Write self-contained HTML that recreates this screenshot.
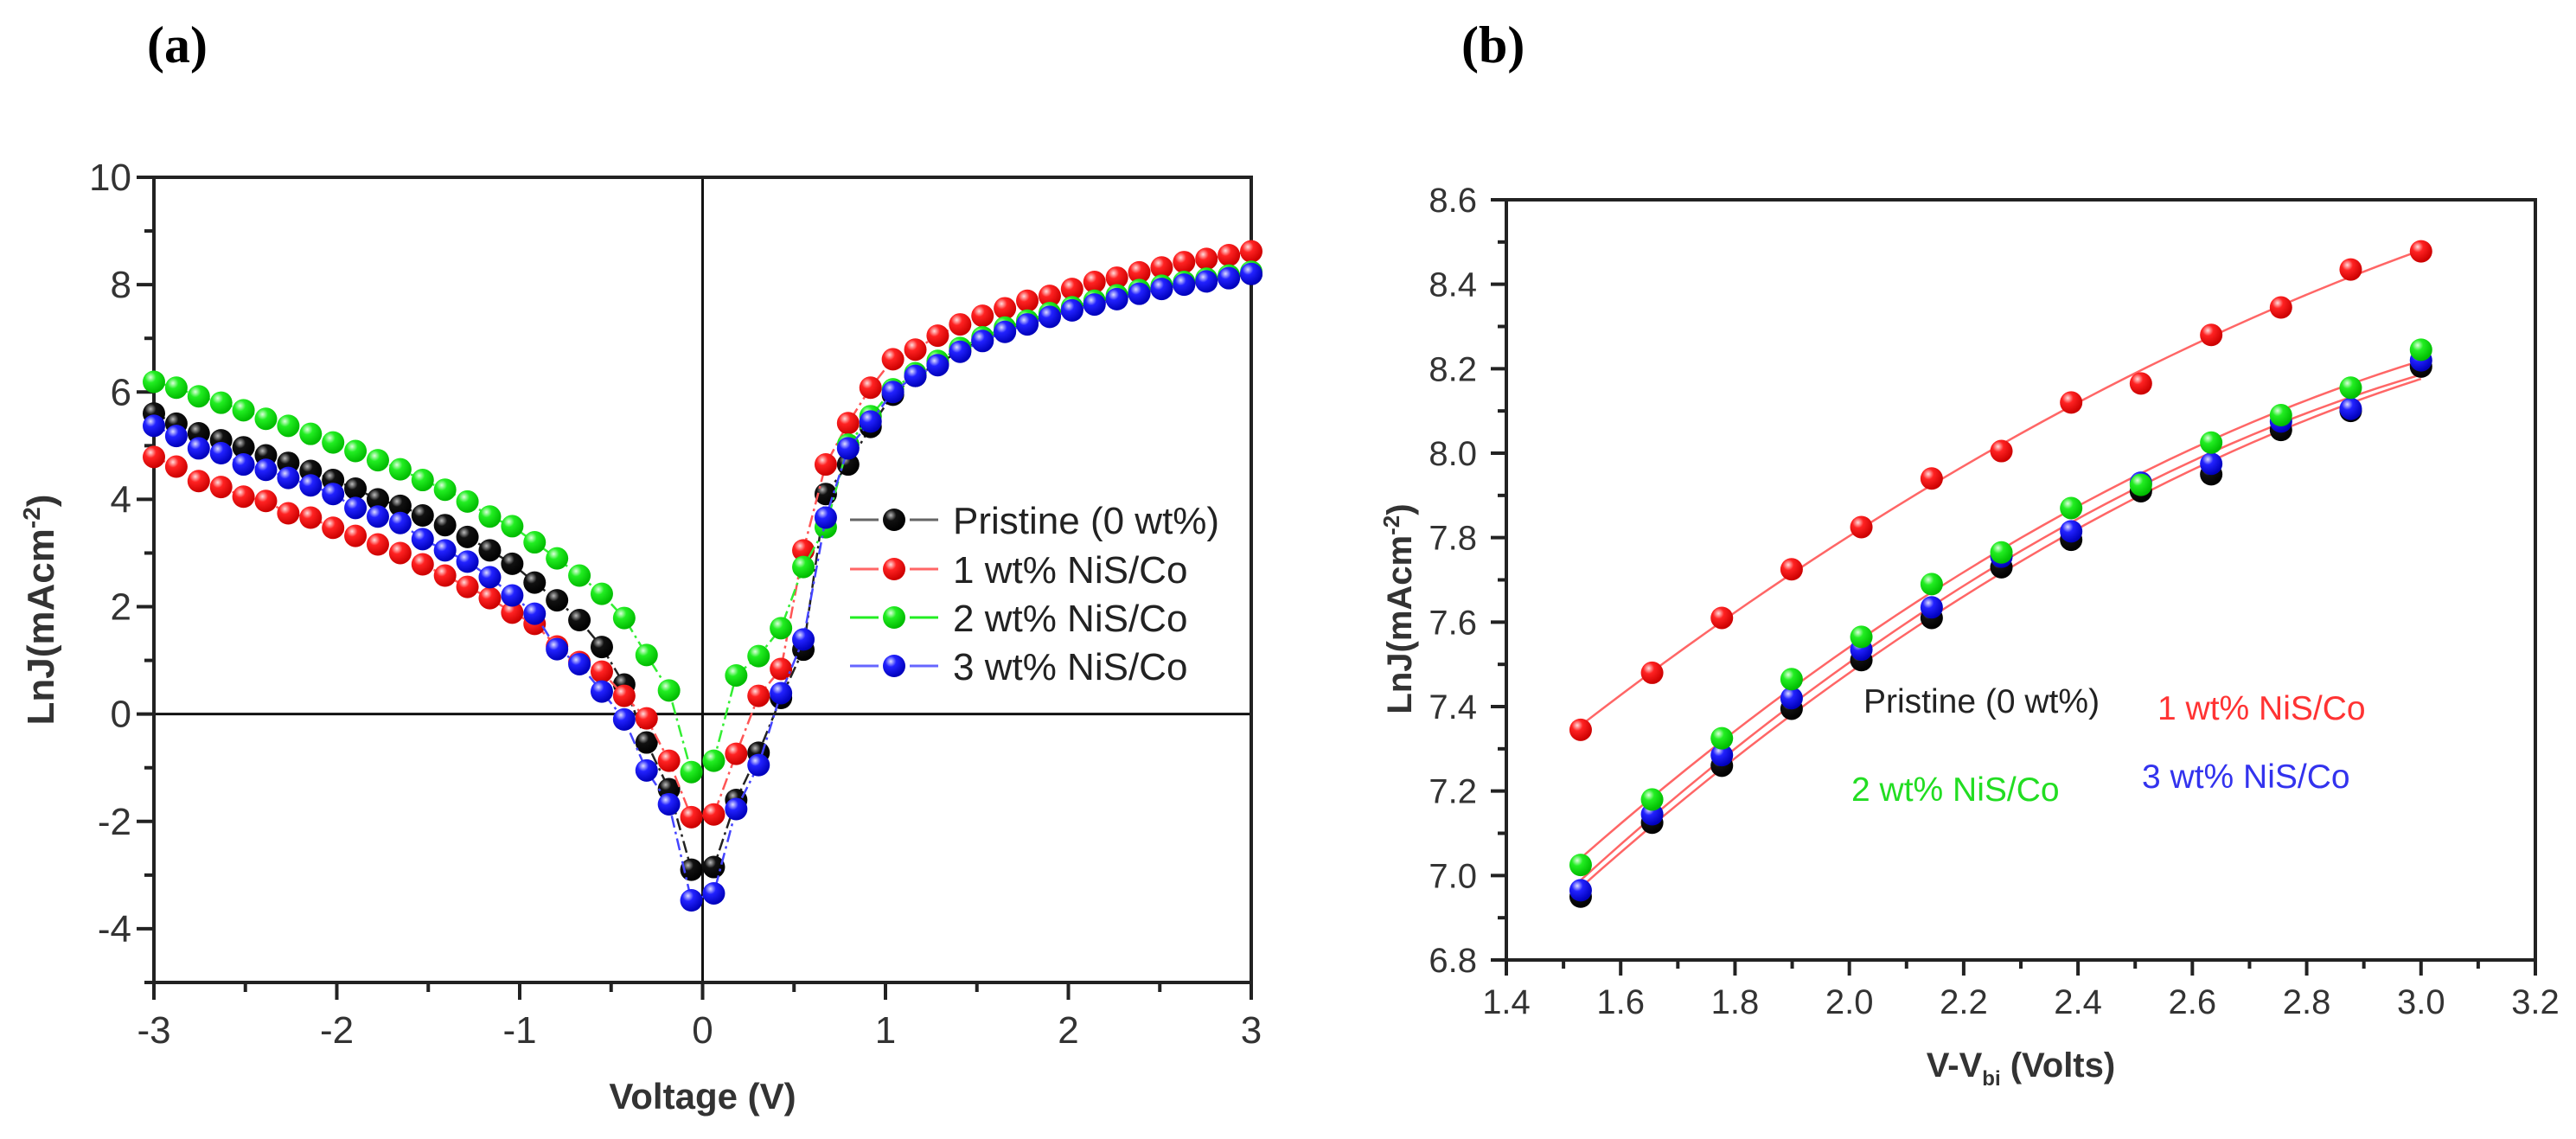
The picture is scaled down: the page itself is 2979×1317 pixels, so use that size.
<!DOCTYPE html>
<html><head><meta charset="utf-8">
<style>
html,body{margin:0;padding:0;background:#fff;}
svg{display:block;font-family:"Liberation Sans",Arial,sans-serif;}
</style></head>
<body>
<svg id="chart" width="2979" height="1317" viewBox="0 0 2979 1317" xmlns="http://www.w3.org/2000/svg">
<defs>
<radialGradient id="gk" cx="35%" cy="30%" r="70%"><stop offset="0" stop-color="#bbb"/><stop offset="0.35" stop-color="#111"/><stop offset="1" stop-color="#000"/></radialGradient>
<radialGradient id="gr" cx="35%" cy="30%" r="70%"><stop offset="0" stop-color="#fdd"/><stop offset="0.35" stop-color="#f22"/><stop offset="1" stop-color="#c00"/></radialGradient>
<radialGradient id="gg" cx="35%" cy="30%" r="70%"><stop offset="0" stop-color="#dfd"/><stop offset="0.35" stop-color="#2e2"/><stop offset="1" stop-color="#0b0"/></radialGradient>
<radialGradient id="gb" cx="35%" cy="30%" r="70%"><stop offset="0" stop-color="#ddf"/><stop offset="0.35" stop-color="#22f"/><stop offset="1" stop-color="#00b"/></radialGradient>
</defs>
<text x="170" y="72" font-family="Liberation Serif, serif" font-weight="bold" font-size="60">(a)</text>
<text x="1690" y="72" font-family="Liberation Serif, serif" font-weight="bold" font-size="60">(b)</text>
<g id="pa"></g>
<g id="pb"></g>
</svg>
<script>
// ---- Panel (a) data ----
const aVoltStart = -3, aVoltStep = 6/49, aCount = 50;
const aSeriesNames = ["Pristine (0 wt%)","1 wt% NiS/Co","2 wt% NiS/Co","3 wt% NiS/Co"];
const aPristine = [5.6,5.41,5.23,5.1,4.97,4.82,4.68,4.53,4.36,4.2,4.0,3.88,3.7,3.52,3.3,3.05,2.8,2.45,2.12,1.75,1.25,0.55,-0.53,-1.4,-2.9,-2.85,-1.6,-0.72,0.3,1.2,4.1,4.65,5.35,5.95,6.3,6.52,6.77,6.97,7.14,7.28,7.42,7.54,7.65,7.75,7.85,7.94,8.01,8.08,8.14,8.2];
const a1wt = [4.79,4.61,4.34,4.23,4.05,3.97,3.74,3.66,3.47,3.32,3.16,3.0,2.79,2.58,2.37,2.16,1.89,1.68,1.26,0.97,0.79,0.34,-0.08,-0.87,-1.92,-1.87,-0.74,0.34,0.84,3.05,4.65,5.42,6.08,6.61,6.79,7.05,7.26,7.42,7.56,7.7,7.79,7.92,8.05,8.13,8.23,8.32,8.42,8.48,8.55,8.62];
const a2wt = [6.19,6.08,5.92,5.8,5.66,5.5,5.37,5.22,5.06,4.9,4.73,4.56,4.36,4.18,3.96,3.68,3.5,3.2,2.9,2.58,2.24,1.79,1.1,0.44,-1.08,-0.87,0.72,1.08,1.6,2.74,3.48,5.02,5.55,6.05,6.35,6.58,6.82,7.02,7.2,7.33,7.47,7.58,7.7,7.8,7.9,7.98,8.05,8.11,8.17,8.24];
const a3wt = [5.37,5.18,4.95,4.86,4.65,4.55,4.4,4.26,4.1,3.84,3.68,3.56,3.26,3.05,2.84,2.55,2.21,1.87,1.21,0.93,0.42,-0.1,-1.05,-1.68,-3.47,-3.34,-1.77,-0.95,0.39,1.39,3.66,4.95,5.45,6.0,6.3,6.5,6.75,6.95,7.12,7.26,7.4,7.52,7.63,7.73,7.83,7.92,8.0,8.06,8.12,8.2];
const aXTicks = [-3,-2,-1,0,1,2,3];
const aYTicks = [-4,-2,0,2,4,6,8,10];
// ---- Panel (b) data ----
const bX = [1.53,1.655,1.777,1.899,2.021,2.144,2.266,2.388,2.51,2.633,2.755,2.877,3.0];
const bPristine = [6.95,7.125,7.26,7.395,7.51,7.61,7.73,7.795,7.91,7.95,8.055,8.1,8.205];
const b1wt = [7.345,7.48,7.61,7.725,7.825,7.94,8.005,8.12,8.165,8.28,8.345,8.435,8.478];
const b2wt = [7.025,7.18,7.325,7.465,7.565,7.69,7.765,7.87,7.925,8.025,8.09,8.155,8.245];
const b3wt = [6.965,7.145,7.285,7.42,7.535,7.635,7.755,7.815,7.93,7.975,8.075,8.105,8.22];
const bXTicks = ["1.4","1.6","1.8","2.0","2.2","2.4","2.6","2.8","3.0","3.2"];
const bYTicks = ["6.8","7.0","7.2","7.4","7.6","7.8","8.0","8.2","8.4","8.6"];

const NS="http://www.w3.org/2000/svg";
function mk(tag,attrs,parent){const e=document.createElementNS(NS,tag);for(const k in attrs)e.setAttribute(k,attrs[k]);parent.appendChild(e);return e;}

// Panel a scales
const axL=178, axR=1447, ayT=205, ayB=1136;
const ax=v=>axL+(v+3)/6*(axR-axL);
const ay=v=>ayB-(v+5)/15*(ayB-ayT);
const pa=document.getElementById('pa');
let z1=mk('line',{x1:ax(0),x2:ax(0),y1:ayT,y2:ayB,stroke:'#111','stroke-width':3},pa);


let z2=mk('line',{x1:axL,x2:axR,y1:ay(0),y2:ay(0),stroke:'#111','stroke-width':3},pa);


let fa=mk('rect',{x:axL,y:ayT,width:axR-axL,height:ayB-ayT,fill:'none',stroke:'#222','stroke-width':4},pa);


for(let v=-3;v<=3.001;v+=0.5){const maj=Math.abs(v-Math.round(v))<1e-6;
 mk('line',{x1:ax(v),x2:ax(v),y1:ayB,y2:ayB+(maj?20:11),stroke:'#222','stroke-width':4},pa);}
aXTicks.forEach(v=>{const t=mk('text',{x:ax(v),y:1206,'text-anchor':'middle','font-size':44,fill:'#333'},pa);t.textContent=String(v);
 
 });
for(let v=-5;v<=10;v+=1){const maj=v%2===0;
 mk('line',{x1:axL-(maj?20:11),x2:axL,y1:ay(v),y2:ay(v),stroke:'#222','stroke-width':4},pa);}
aYTicks.forEach(v=>{const t=mk('text',{x:152,y:ay(v)+15,'text-anchor':'end','font-size':44,fill:'#333'},pa);t.textContent=String(v);
 
 });
let xta=mk('text',{x:ax(0),y:1282,'text-anchor':'middle','font-size':42,'font-weight':'bold',fill:'#333'},pa);xta.textContent='Voltage (V)';


let yta=mk('text',{x:62,y:705,'text-anchor':'middle','font-size':44,'font-weight':'bold',fill:'#333',transform:'rotate(-90 62 705)'},pa);
yta.innerHTML='LnJ(mAcm<tspan dy="-16" font-size="28">-2</tspan><tspan dy="16">)</tspan>';



const aSeries=[[aPristine,'#222','gk'],[a1wt,'#f55','gr'],[a2wt,'#3e3','gg'],[a3wt,'#44f','gb']];
aSeries.forEach((s,si)=>{
 const g=mk('g',{},pa);
 
 
 const pts=s[0].map((v,i)=>ax(aVoltStart+i*aVoltStep)+','+ay(v)).join(' ');
 mk('polyline',{points:pts,fill:'none',stroke:s[1],'stroke-width':2.5,'stroke-dasharray':'14 5 3 5'},g);
 s[0].forEach((v,i)=>{const c=mk('circle',{cx:ax(aVoltStart+i*aVoltStep),cy:ay(v),r:13,fill:'url(#'+s[2]+')'},g);
  
  });
});
// legend a
const legY=[601,658,714,770];
const legLine=['#666','#f66','#2e2','#66f'];
aSeries.forEach((s,si)=>{
 const g=mk('g',{},pa);
 
 
 mk('line',{x1:983,x2:1016,y1:legY[si],y2:legY[si],stroke:legLine[si],'stroke-width':3},g);
 mk('line',{x1:1052,x2:1085,y1:legY[si],y2:legY[si],stroke:legLine[si],'stroke-width':3},g);
 mk('circle',{cx:1034,cy:legY[si],r:13,fill:'url(#'+s[2]+')'},g);
 const t=mk('text',{x:1102,y:legY[si]+16,'font-size':44,fill:'#222'},g);t.textContent=aSeriesNames[si];
});

// Panel b
const bxL=1742,bxR=2932,byT=231,byB=1110;
const bx=v=>bxL+(v-1.4)/1.8*(bxR-bxL);
const by=v=>byB-(v-6.8)/1.8*(byB-byT);
const pb=document.getElementById('pb');
let fb=mk('rect',{x:bxL,y:byT,width:bxR-bxL,height:byB-byT,fill:'none',stroke:'#222','stroke-width':4},pb);


for(let i=0;i<=18;i++){const v=1.4+i*0.1,maj=i%2===0;
 mk('line',{x1:bx(v),x2:bx(v),y1:byB,y2:byB+(maj?18:10),stroke:'#222','stroke-width':4},pb);
 const w=6.8+i*0.1;
 mk('line',{x1:bxL-(maj?18:10),x2:bxL,y1:by(w),y2:by(w),stroke:'#222','stroke-width':4},pb);}
bXTicks.forEach(s=>{const t=mk('text',{x:bx(parseFloat(s)),y:1172,'text-anchor':'middle','font-size':40,fill:'#333'},pb);t.textContent=s;
 
 });
bYTicks.forEach(s=>{const t=mk('text',{x:1708,y:by(parseFloat(s))+14,'text-anchor':'end','font-size':40,fill:'#333'},pb);t.textContent=s;
 
 });
let xtb=mk('text',{x:2337,y:1245,'text-anchor':'middle','font-size':40,'font-weight':'bold',fill:'#333'},pb);
xtb.innerHTML='V-V<tspan dy="10" font-size="24">bi</tspan><tspan dy="-10"> (Volts)</tspan>';


let ytb=mk('text',{x:1632,y:704,'text-anchor':'middle','font-size':40,'font-weight':'bold',fill:'#333',transform:'rotate(-90 1632 704)'},pb);
ytb.innerHTML='LnJ(mAcm<tspan dy="-14" font-size="26">-2</tspan><tspan dy="14">)</tspan>';



function quadFit(xs,ys){let n=xs.length,S=[0,0,0,0,0],T=[0,0,0];
 for(let i=0;i<n;i++){let p=1;for(let k=0;k<5;k++){S[k]+=p;if(k<3)T[k]+=p*ys[i];p*=xs[i];}}
 const M=[[S[0],S[1],S[2],T[0]],[S[1],S[2],S[3],T[1]],[S[2],S[3],S[4],T[2]]];
 for(let c=0;c<3;c++){for(let r=c+1;r<3;r++){const f=M[r][c]/M[c][c];for(let k=c;k<4;k++)M[r][k]-=f*M[c][k];}}
 const a=[0,0,0];for(let r=2;r>=0;r--){let s=M[r][3];for(let k=r+1;k<3;k++)s-=M[r][k]*a[k];a[r]=s/M[r][r];}
 return x=>a[0]+a[1]*x+a[2]*x*x;}
const bSeries=[[b1wt,'gr'],[b2wt,'gg'],[b3wt,'gb'],[bPristine,'gk']];
bSeries.forEach((s,si)=>{
 const f=quadFit(bX,s[0]);const pts=[];
 for(let i=0;i<=40;i++){const x=bX[0]+(bX[bX.length-1]-bX[0])*i/40;pts.push(bx(x)+','+by(f(x)));}
 const fl=mk('polyline',{points:pts.join(' '),fill:'none',stroke:'#f66','stroke-width':2.5},pb);
 
 
});
[[bPristine,'gk'],[b3wt,'gb'],[b2wt,'gg'],[b1wt,'gr']].forEach((s,si)=>{
 s[0].forEach((v,i)=>{const c=mk('circle',{cx:bx(bX[i]),cy:by(v),r:13,fill:'url(#'+s[1]+')'},pb);
  
  });
});
const bLabels=[["Pristine (0 wt%)",2155,824,'#222'],["1 wt% NiS/Co",2495,832,'#f33'],["2 wt% NiS/Co",2141,926,'#2d2'],["3 wt% NiS/Co",2477,911,'#33e']];
bLabels.forEach(l=>{const t=mk('text',{x:l[1],y:l[2],'font-size':39,fill:l[3]},pb);t.textContent=l[0];
 
 });
</script>
</body></html>
